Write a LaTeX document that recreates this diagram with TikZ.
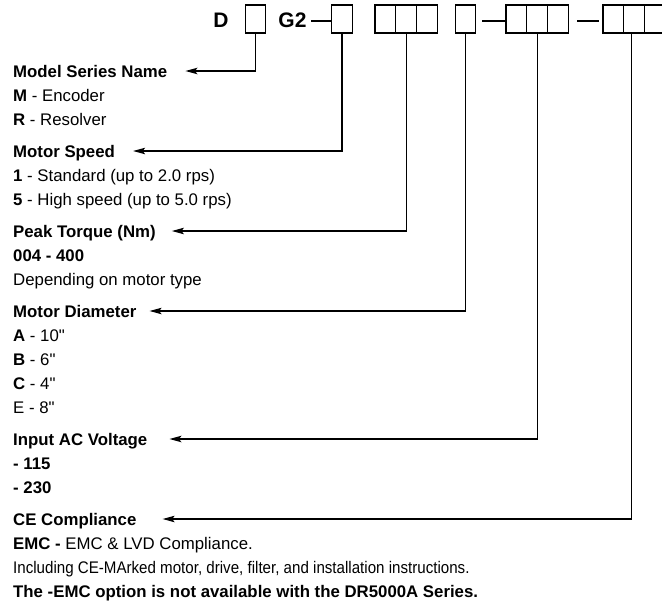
\documentclass[tikz,border=0pt]{standalone}
\usepackage{fontspec}
\usepackage{graphicx}
\setmainfont{Liberation Sans}[Ligatures=TeXOff]
\usetikzlibrary{arrows.meta}

\begin{document}
\begin{tikzpicture}[x=1pt, y=-1pt,
    every node/.style={inner sep=0pt, font=\fontsize{16.8}{20}\selectfont},
    cell/.style={draw, line width=1.2pt, minimum width=20.7pt, minimum height=28pt},
    head/.style={anchor=base west, font=\fontsize{16.8}{20}\selectfont\bfseries, text height=12pt, text depth=0pt},
    item/.style={anchor=base west},
    code/.style={anchor=base, font=\fontsize{21}{24}\selectfont\bfseries},
    conn/.style={line width=1.1pt, -{Stealth[length=12pt, width=6.5pt, inset=2.5pt]}},
    bar/.style={line width=2.4pt}]
    \useasboundingbox (0, 0) rectangle (662, 603);

    % part number
    \node[code] (d) at (221, 27) {D};
    \node[cell] (b1) at (255.5, 19) {};
    \node[code] (g) at (292.5, 27) {G2};
    \node[cell] (b2) at (342, 19) {};
    \node[cell] (c31) at (385.4, 19) {};
    \node[cell] (c32) at (406.1, 19) {};
    \node[cell] (c33) at (426.8, 19) {};
    \node[cell] (b4) at (465.5, 19) {};
    \node[cell] (c51) at (516.4, 19) {};
    \node[cell] (c52) at (537.1, 19) {};
    \node[cell] (c53) at (557.8, 19) {};
    \node[cell] (c61) at (613.4, 19) {};
    \node[cell] (c62) at (634.1, 19) {};
    \node[cell] (c63) at (654.8, 19) {};

    \draw[bar] ([xshift=-20pt, yshift=-2pt]b2.west) -- ([yshift=-2pt]b2.west);
    \draw[bar] ([xshift=-23pt, yshift=-2pt]c51.west) -- ([yshift=-2pt]c51.west);
    \draw[bar] ([xshift=-25pt, yshift=-2pt]c61.west) -- ([xshift=-3pt, yshift=-2pt]c61.west);

    % legend
    \node[head] (ms) at (13, 77) {Model Series Name};
    \node[item] (ms1) at (13, 101) {\textbf{M} - Encoder};
    \node[item] (ms2) at (13, 125) {\textbf{R} - Resolver};

    \node[head] (sp) at (13, 157) {Motor Speed};
    \node[item] (sp1) at (13, 181) {\textbf{1} - Standard (up to 2.0 rps)};
    \node[item] (sp2) at (13, 205) {\textbf{5} - High speed (up to 5.0 rps)};

    \node[head] (pt) at (13, 237) {Peak Torque (Nm)};
    \node[item] (pt1) at (13, 261) {\textbf{004 - 400}};
    \node[item] (pt2) at (13, 285) {Depending on motor type};

    \node[head] (md) at (13, 317) {Motor Diameter};
    \node[item] (md1) at (13, 341) {\textbf{A} - 10"};
    \node[item] (md2) at (13, 365) {\textbf{B} - 6"};
    \node[item] (md3) at (13, 389) {\textbf{C} - 4"};
    \node[item] (md4) at (13, 413) {E - 8"};

    \node[head] (ac) at (13, 445) {Input AC Voltage};
    \node[item] (ac1) at (13, 469) {\textbf{- 115}};
    \node[item] (ac2) at (13, 493) {\textbf{- 230}};

    \node[head] (ce) at (13, 525) {CE Compliance};
    \node[item] (ce1) at (13, 549) {\textbf{EMC -} EMC \& LVD Compliance.};
    \node[item] (ce2) at (13, 573) {\scalebox{0.9}[1]{Including CE-MArked motor, drive, filter, and installation instructions.}};
    \node[item] (ce3) at (13, 597) {\textbf{The -EMC option is not available with the DR5000A Series.}};

    \draw[conn] (b1.south) |- ([xshift=18pt]ms.east);
    \draw[conn] (b2.south) |- ([xshift=18pt]sp.east);
    \draw[conn] (c32.south) |- ([xshift=16pt]pt.east);
    \draw[conn] (b4.south) |- ([xshift=13pt]md.east);
    \draw[conn] (c52.south) |- ([xshift=22pt]ac.east);
    \draw[conn] ([xshift=-3pt]c62.south) |- ([xshift=26pt]ce.east);
\end{tikzpicture}
\end{document}
